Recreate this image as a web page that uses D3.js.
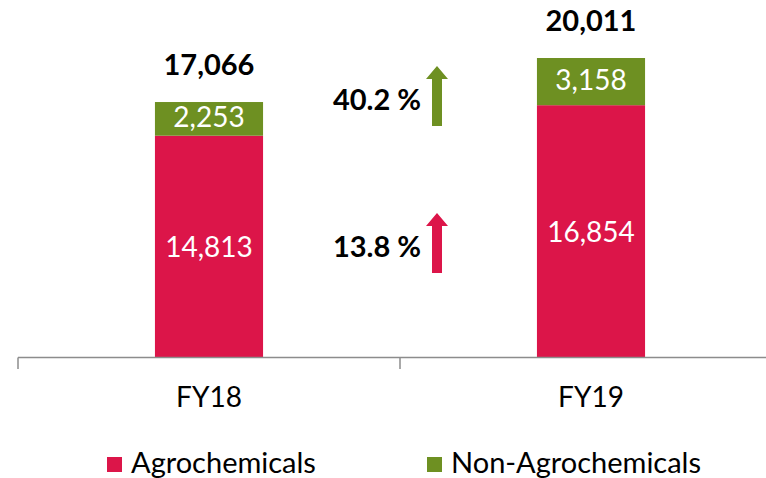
<!DOCTYPE html>
<html>
<head>
<meta charset="utf-8">
<script src="https://cdn.jsdelivr.net/npm/d3@7"></script>
<style>
  body { margin: 0; background: #fff; }
  text { font-family: Lato, "Noto Sans", sans-serif; }
</style>
</head>
<body>
<svg width="766" height="478"></svg>
<script>
var years = ['FY18', 'FY19']
var agro = [14813, 16854]
var nonAgro = [2253, 3158]
var totals = [17066, 20011]
var growth = [{ label: '40.2 %', key: 'nonAgro' }, { label: '13.8 %', key: 'agro' }]
var seriesNames = ['Agrochemicals', 'Non-Agrochemicals']

var colors = { agro: '#dc1549', nonAgro: '#6e9022' }
var fmt = d3.format(',')

var svg = d3.select('svg')

var x = d3.scaleBand().domain(years).range([18, 782])
  .paddingInner(0.717).paddingOuter(0.3585)
var y = d3.scaleLinear().domain([0, 23895]).range([357, 0])

var rows = years.map((yr, i) => ({ year: yr, agro: agro[i], nonAgro: nonAgro[i], total: totals[i] }))

// bars
var g = svg.selectAll('.bar').data(rows).enter().append('g').attr('class', 'bar')

g.append('rect')
  .attr('x', (d) => x(d.year))
  .attr('width', x.bandwidth())
  .attr('y', (d) => y(d.agro))
  .attr('height', (d) => y(0) - y(d.agro))
  .attr('fill', colors.agro)

g.append('rect')
  .attr('x', (d) => x(d.year))
  .attr('width', x.bandwidth())
  .attr('y', (d) => y(d.agro + d.nonAgro))
  .attr('height', (d) => y(d.agro) - y(d.agro + d.nonAgro))
  .attr('fill', colors.nonAgro)

var cx = (d) => x(d.year) + x.bandwidth() / 2

g.append('text')
  .attr('x', cx)
  .attr('y', (d) => (y(d.agro) + y(0)) / 2 + 4)
  .attr('text-anchor', 'middle').attr('dominant-baseline', 'middle')
  .attr('fill', '#fff').attr('font-size', 28)
  .text((d) => fmt(d.agro))

g.append('text')
  .attr('x', cx)
  .attr('y', (d) => (y(d.agro) + y(d.agro + d.nonAgro)) / 2 + 1)
  .attr('text-anchor', 'middle').attr('dominant-baseline', 'middle')
  .attr('fill', '#fff').attr('font-size', 28)
  .text((d) => fmt(d.nonAgro))

g.append('text')
  .attr('x', cx)
  .attr('y', (d) => y(d.total) - 34)
  .attr('text-anchor', 'middle').attr('dominant-baseline', 'middle')
  .attr('font-weight', 'bold').attr('font-size', 29)
  .text((d) => fmt(d.total))

// axis
var axis = svg.append('g').attr('stroke', '#8c8c8c').attr('stroke-width', 1.5)
axis.append('line').attr('x1', 18).attr('x2', 782).attr('y1', 357.5).attr('y2', 357.5)
var edges = [x(years[0]) - x.step() * x.paddingOuter()].concat(
  years.map((yr) => x(yr) + x.bandwidth() + x.step() * x.paddingInner() / 2))
axis.selectAll('.tick').data(edges).enter().append('line')
  .attr('x1', (d) => d).attr('x2', (d) => d)
  .attr('y1', 357.5).attr('y2', 369)

svg.selectAll('.xl').data(years).enter().append('text')
  .attr('x', (d) => x(d) + x.bandwidth() / 2)
  .attr('y', 400)
  .attr('text-anchor', 'middle').attr('dominant-baseline', 'middle')
  .attr('font-size', 28).attr('fill', '#000')
  .text((d) => d)

// growth arrows
var arrowY = { nonAgro: 66, agro: 213 }
var ag = svg.selectAll('.growth').data(growth).enter().append('g')
  .attr('transform', (d) => 'translate(437,' + arrowY[d.key] + ')')
ag.append('path')
  .attr('d', 'M0,0 L11,13 L5,13 L5,60 L-5,60 L-5,13 L-11,13 Z')
  .attr('fill', (d) => colors[d.key])
ag.append('text')
  .attr('x', -60).attr('y', 37)
  .attr('text-anchor', 'middle').attr('dominant-baseline', 'middle')
  .attr('font-weight', 'bold').attr('font-size', 29)
  .text((d) => d.label)

// legend
var legendX = [107, 427]
var lg = svg.selectAll('.legend').data(seriesNames).enter().append('g')
  .attr('transform', (d, i) => 'translate(' + legendX[i] + ',457)')
lg.append('rect').attr('width', 15).attr('height', 15)
  .attr('fill', (d, i) => i === 0 ? colors.agro : colors.nonAgro)
lg.append('text').attr('x', 24).attr('y', 9)
  .attr('dominant-baseline', 'middle').attr('font-size', 29)
  .text((d) => d)
</script>
</body>
</html>
